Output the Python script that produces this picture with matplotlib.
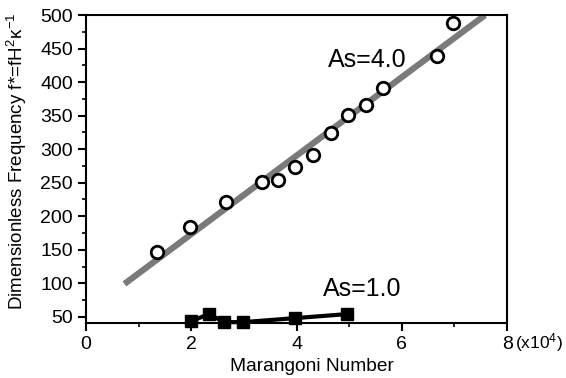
import matplotlib
matplotlib.use("Agg")
import matplotlib.pyplot as plt
from matplotlib.ticker import MultipleLocator

plt.rcParams['font.family'] = ['Liberation Sans', 'DejaVu Sans']
plt.rcParams['mathtext.fontset'] = 'custom'
plt.rcParams['mathtext.rm'] = 'Liberation Sans'
plt.rcParams['mathtext.it'] = 'Liberation Sans'

# As = 4.0 (open circles)
as4_x = [1.34, 1.98, 2.65, 3.34, 3.64, 3.97, 4.31, 4.66, 4.98, 5.32, 5.65, 6.66, 6.98]
as4_y = [147, 184, 221, 251, 254, 273, 291, 324, 351, 366, 391, 439, 488]
# fitted line for As = 4.0
fit_x = [0.73, 7.58]
fit_y = [99, 500]
# As = 1.0 (filled squares)
as1_x = [1.99, 2.33, 2.63, 2.98, 3.97, 4.96]
as1_y = [43, 54, 42, 42, 48, 54]

fig = plt.figure(figsize=(5.66, 3.78), dpi=100)
ax = fig.add_axes([0.152, 0.146, 0.744, 0.814])

ax.plot(fit_x, fit_y, color='#7a7a7a', lw=4.5, solid_capstyle='butt', zorder=2)
ax.plot(as4_x, as4_y, linestyle='none', marker='o', ms=9, mfc='white',
        mec='black', mew=2, zorder=3)
ax.plot(as1_x, as1_y, color='black', lw=3, marker='s', ms=9, zorder=3,
        clip_on=False)

ax.text(5.34, 433, 'As=4.0', fontsize=18, ha='center', va='center')
ax.text(5.25, 92, 'As=1.0', fontsize=18, ha='center', va='center')

ax.set_xlim(0, 8)
ax.set_ylim(41, 500)
ax.xaxis.set_major_locator(MultipleLocator(2))
ax.xaxis.set_minor_locator(MultipleLocator(1))
ax.yaxis.set_major_locator(MultipleLocator(50))
ax.yaxis.set_minor_locator(MultipleLocator(25))
ax.set_yticks([50, 100, 150, 200, 250, 300, 350, 400, 450, 500])
ax.tick_params(which='major', direction='out', length=6, width=1.5, labelsize=14)
ax.tick_params(which='minor', direction='out', length=3, width=1.2)
for s in ax.spines.values():
    s.set_linewidth(1.5)

ax.set_xlabel('Marangoni Number', fontsize=13.8)
ax.xaxis.set_label_coords(0.537, -0.115)
ax.set_ylabel('Dimensionless Frequency f*=fH$^{2}$$\\kappa^{-1}$', fontsize=13.5)
ax.yaxis.set_label_coords(-0.135, 0.524)
ax.text(1.019, -0.065, '(x10$^{4}$)', transform=ax.transAxes, fontsize=12.5,
        ha='left', va='center')

fig.savefig('out.png', dpi=100)
